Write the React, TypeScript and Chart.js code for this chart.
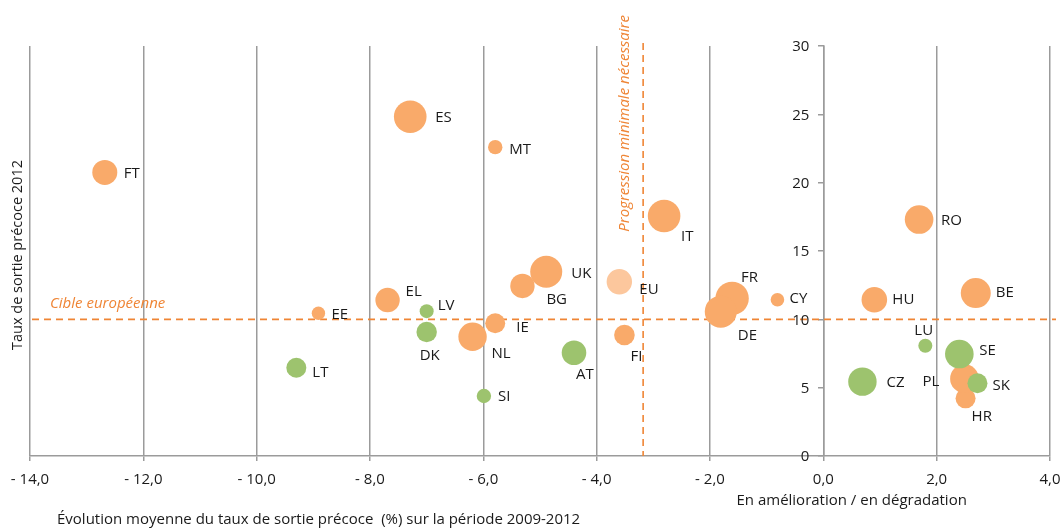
import { useEffect, useRef } from "react";
import { Chart, registerables } from "chart.js";

Chart.register(...registerables);

// ---- Data ----
const orangeCountries = ["FT", "ES", "MT", "IT", "RO", "EE", "EL", "NL", "IE", "BG", "UK", "FI", "FR", "DE", "CY", "HU", "BE", "HR", "PL"];
const orangeX = [-12.68, -7.29, -5.79, -2.81, 1.69, -8.91, -7.69, -6.19, -5.79, -5.31, -4.89, -3.51, -1.61, -1.81, -0.81, 0.9, 2.69, 2.51, 2.49];
const orangeY = [20.75, 24.82, 22.6, 17.56, 17.3, 10.44, 11.41, 8.73, 9.71, 12.44, 13.48, 8.85, 11.53, 10.56, 11.43, 11.43, 11.92, 4.22, 5.66];
const orangeSize = [12.5, 16.3, 7.2, 16.3, 14.3, 6.7, 12.2, 14.2, 10, 12.2, 16, 10.3, 16.7, 16, 6.8, 12.8, 15, 10, 14.3];

const greenCountries = ["LT", "LV", "DK", "SI", "AT", "LU", "SE", "CZ", "SK"];
const greenX = [-9.3, -7.0, -7.0, -5.99, -4.4, 1.8, 2.4, 0.69, 2.72];
const greenY = [6.46, 10.6, 9.07, 4.39, 7.56, 8.07, 7.46, 5.44, 5.32];
const greenSize = [10, 7, 10.2, 7.2, 12.3, 7, 14.3, 14.2, 10];

const euCountries = ["EU"];
const euX = [-3.6];
const euY = [12.75];
const euSize = [12.7];

const targetRate = 10; // Cible européenne
const minProgress = -3.18; // Progression minimale nécessaire

const xTicks = [-14, -12, -10, -8, -6, -4, -2, 0, 2, 4];
const yTicks = [0, 5, 10, 15, 20, 25, 30];

const xTitle = "Évolution moyenne du taux de sortie précoce  (%) sur la période 2009-2012";
const xSubTitle = "En amélioration / en dégradation";
const yTitle = "Taux de sortie précoce 2012";
const targetLabel = "Cible européenne";
const progressLabel = "Progression minimale nécessaire";

// ---- Label placement (style) ----
const labelOffset: Record<string, [number, number]> = {
  FT: [19, 1], ES: [25, 1], MT: [14, 3], IT: [17, 21], RO: [22, 1], EE: [13, 1],
  LT: [16, 5], EL: [18, -8], LV: [11, -5], DK: [-7, 24], NL: [19, 17], IE: [21, 4],
  SI: [14, 1], BG: [24, 14], UK: [25, 2], EU: [20, 8], AT: [2, 22], FI: [6, 22],
  FR: [9, -21], DE: [17, 24], CY: [12, -1], HU: [18, 0], BE: [20, 0], LU: [-11, -15],
  SE: [20, -3], CZ: [24, 1], PL: [-42, 3], SK: [15, 2], HR: [6, 18],
};

const FONT = "'Open Sans', 'DejaVu Sans', sans-serif";
const ORANGE = "#F9AA6A";
const GREEN = "#9DC36E";
const EU_COLOR = "#FCC79D";
const LINE_ORANGE = "#EF8535";
const GRID = "#9B9B9B";
const TEXT = "#1A1A1A";

function fmtX(v: number) {
  const s = Math.abs(v).toFixed(1).replace(".", ",");
  return v < 0 ? "- " + s : s;
}

function mk(names: string[], xs: number[], ys: number[], rs: number[]) {
  return names.map((n, i) => ({ x: xs[i], y: ys[i], r: rs[i], name: n }));
}

const overlayPlugin = {
  id: "overlay",
  beforeDatasetsDraw(chart: any) {
    const { ctx, chartArea, scales } = chart;
    const xs = scales.x, ys = scales.y;
    ctx.save();
    ctx.strokeStyle = LINE_ORANGE;
    ctx.lineWidth = 1.6;
    ctx.setLineDash([7, 5]);
    const yp = ys.getPixelForValue(targetRate);
    ctx.beginPath();
    ctx.moveTo(chartArea.left + 2, yp);
    ctx.lineTo(chartArea.right + 6, yp);
    ctx.stroke();
    const xp = xs.getPixelForValue(minProgress);
    ctx.beginPath();
    ctx.moveTo(xp, chartArea.top - 3);
    ctx.lineTo(xp, chartArea.bottom);
    ctx.stroke();
    ctx.setLineDash([]);

    ctx.fillStyle = LINE_ORANGE;
    ctx.font = `italic 15px ${FONT}`;
    ctx.textAlign = "left";
    ctx.textBaseline = "middle";
    ctx.fillText(targetLabel, chartArea.left + 20, yp - 16);

    ctx.save();
    ctx.translate(xp - 18, chartArea.top - 31);
    ctx.rotate(-Math.PI / 2);
    ctx.textAlign = "right";
    ctx.textBaseline = "middle";
    ctx.fillText(progressLabel, 0, 0);
    ctx.restore();

    // axis titles
    ctx.fillStyle = TEXT;
    ctx.font = `15px ${FONT}`;
    ctx.textAlign = "left";
    ctx.textBaseline = "middle";
    ctx.fillText(xTitle, 57, chart.height - 12);
    ctx.textAlign = "center";
    ctx.fillText(xSubTitle, xs.getPixelForValue(0.5), chartArea.bottom + 45);

    // y tick labels (drawn left of the axis at x = 0)
    const ax = xs.getPixelForValue(0);
    ctx.textAlign = "right";
    yTicks.forEach((v) => {
      ctx.fillText(String(v), ax - 14, ys.getPixelForValue(v) + 1);
    });

    ctx.save();
    ctx.font = `14.5px ${FONT}`;
    ctx.translate(18, (chartArea.top + chartArea.bottom) / 2 + 4);
    ctx.rotate(-Math.PI / 2);
    ctx.textAlign = "center";
    ctx.fillText(yTitle, 0, 0);
    ctx.restore();
    ctx.restore();
  },
  afterDatasetsDraw(chart: any) {
    const { ctx } = chart;
    ctx.save();
    ctx.fillStyle = TEXT;
    ctx.font = `15px ${FONT}`;
    ctx.textAlign = "left";
    ctx.textBaseline = "middle";
    chart.data.datasets.forEach((ds: any, di: number) => {
      const meta = chart.getDatasetMeta(di);
      meta.data.forEach((el: any, i: number) => {
        const name = ds.data[i].name;
        const off = labelOffset[name] || [12, 0];
        ctx.fillText(name, el.x + off[0], el.y + off[1]);
      });
    });
    ctx.restore();
  },
};

export default function App() {
  const ref = useRef<HTMLCanvasElement | null>(null);
  useEffect(() => {
    if (!ref.current) return;
    const chart = new Chart(ref.current, {
      type: "bubble",
      data: {
        datasets: [
          { label: "green", data: mk(greenCountries, greenX, greenY, greenSize), backgroundColor: GREEN, borderWidth: 0 },
          { label: "orange", data: mk(orangeCountries, orangeX, orangeY, orangeSize), backgroundColor: ORANGE, borderWidth: 0 },
          { label: "EU", data: mk(euCountries, euX, euY, euSize), backgroundColor: EU_COLOR, borderWidth: 0 },
        ] as any,
      },
      options: {
        animation: false,
        responsive: true,
        maintainAspectRatio: false,
        events: [],
        layout: { autoPadding: false, padding: { left: 30, right: 12, top: 46, bottom: 0 } },
        plugins: { legend: { display: false }, tooltip: { enabled: false } },
        scales: {
          x: {
            type: "linear",
            min: -14,
            max: 4,
            afterBuildTicks: (s: any) => { s.ticks = xTicks.map((v) => ({ value: v })); },
            afterFit: (s: any) => { s.height = 76; s.paddingLeft = 0; s.paddingRight = 0; },
            ticks: {
              callback: (v: any) => fmtX(Number(v)),
              color: TEXT,
              font: { family: FONT, size: 15 },
              padding: 10,
              maxRotation: 0,
            },
            grid: { color: GRID, lineWidth: 1.5, tickLength: 5, drawTicks: true },
            border: { color: GRID, width: 1.5 },
          },
          y: {
            type: "linear",
            position: { x: 0 } as any,
            min: 0,
            max: 30,
            afterBuildTicks: (s: any) => { s.ticks = yTicks.map((v) => ({ value: v })); },
            afterFit: (s: any) => { s.paddingTop = 0; s.paddingBottom = 0; },
            ticks: { display: false },
            grid: { drawOnChartArea: false, color: GRID, lineWidth: 1.5, tickLength: 5 },
            border: { color: GRID, width: 1.5 },
          },
        },
      },
      plugins: [overlayPlugin],
    });
    return () => chart.destroy();
  }, []);
  return (
    <div style={{ position: "fixed", left: 0, top: 0, width: 1062, height: 532, background: "#fff" }}>
      <canvas ref={ref} />
    </div>
  );
}
